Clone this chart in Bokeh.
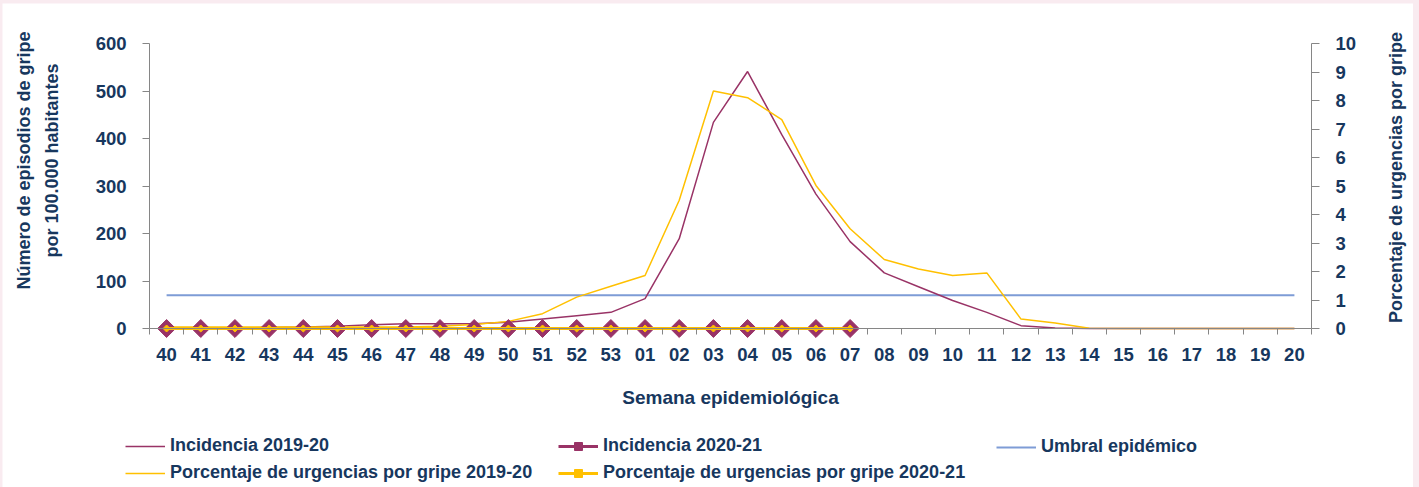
import numpy as np
from bokeh.plotting import figure
from bokeh.models import (Range1d, LinearAxis, FixedTicker, Legend, LegendItem,
                          Label, CustomJSTickFormatter)
from bokeh.embed import file_html
from bokeh.resources import INLINE

# ---------------- data ----------------
weeks = ["40", "41", "42", "43", "44", "45", "46", "47", "48", "49", "50", "51", "52", "53",
         "01", "02", "03", "04", "05", "06", "07", "08", "09", "10", "11", "12", "13", "14",
         "15", "16", "17", "18", "19", "20"]

inc_1920 = [1, 1, 1, 2, 3, 5, 8, 10, 10, 10, 13, 20, 27, 34,
            63, 189, 434, 541, 408, 283, 183, 117, 88, 59, 34, 6, 1, 0,
            0, 0, 0, 0, 0, 0]

pct_1920 = [0.05, 0.05, 0.05, 0.05, 0.05, 0.05, 0.05, 0.05, 0.08, 0.14, 0.25, 0.52, 1.1, 1.48,
            1.86, 4.5, 8.33, 8.1, 7.33, 5.02, 3.5, 2.42, 2.09, 1.86, 1.95, 0.33, 0.19, 0.01,
            0, 0, 0, 0, 0, 0]

weeks_2021 = ["40", "41", "42", "43", "44", "45", "46", "47", "48", "49", "50", "51", "52", "53",
              "01", "02", "03", "04", "05", "06", "07"]
inc_2021 = [0, 0, 0, 0, 0, 0, 0, 0, 0, 0, 0, 0, 0, 0, 0, 0, 0, 0, 0, 0, 0]
pct_2021 = [0, 0, 0, 0, 0, 0, 0, 0, 0, 0, 0, 0, 0, 0, 0, 0, 0, 0, 0, 0, 0]

umbral = [70, 70, 70, 70, 70, 70, 70, 70, 70, 70, 70, 70, 70, 70,
          70, 70, 70, 70, 70, 70, 70, 70, 70, 70, 70, 70, 70, 70,
          70, 70, 70, 70, 70, 70]

left_ticks = [0, 100, 200, 300, 400, 500, 600]
right_ticks = [0, 1, 2, 3, 4, 5, 6, 7, 8, 9, 10]

# ---------------- style / layout ----------------
NAVY = "#17375E"
GRAY = "#868686"
PURPLE = "#993366"
YELLOW = "#FFC000"
BLUE = "#7E9CD6"
FONT = "Liberation Sans"

W, H = 1411, 484               # canvas (whole canvas is the plot frame)
AX_L, AX_R = 147, 1309         # pixel x of left / right value axes
AX_B, AX_T = 325, 40           # pixel y (from top) of value 0 / 600
N = len(weeks)
PXX = (AX_R - AX_L) / N
PXY = (AX_B - AX_T) / 600.0
RATIO = 60.0                   # 600 incidence units == 10 percent units

x_start = -AX_L / PXX
x_end = N + (W - AX_R) / PXX
y_start = -(H - AX_B) / PXY
y_end = AX_B / PXY

pos = {w: i + 0.5 for i, w in enumerate(weeks)}
x_all = [pos[w] for w in weeks]
x_2021 = [pos[w] for w in weeks_2021]

p = figure(width=W, height=H, output_backend="svg", toolbar_location=None,
           x_range=Range1d(x_start, x_end), y_range=Range1d(y_start, y_end),
           min_border=0, outline_line_color=None,
           background_fill_color="white", border_fill_color="white")
p.xgrid.visible = False
p.ygrid.visible = False
p.extra_y_ranges = {"pct": Range1d(y_start / RATIO, y_end / RATIO)}

def style_axis(ax):
    ax.axis_line_color = GRAY
    ax.major_tick_line_color = GRAY
    ax.minor_tick_line_color = GRAY
    ax.major_label_text_font = FONT
    ax.major_label_text_font_style = "bold"
    ax.major_label_text_font_size = "18.5px"
    ax.major_label_text_color = NAVY

xa = p.xaxis[0]
style_axis(xa)
xa.fixed_location = 0
xa.bounds = (0, N)
xa.ticker = FixedTicker(ticks=x_all, minor_ticks=list(range(N + 1)))
xa.formatter = CustomJSTickFormatter(args=dict(labels=weeks),
                                     code="return labels[Math.floor(tick)];")
xa.major_tick_out = 0
xa.major_tick_in = 0
xa.minor_tick_out = 6
xa.minor_tick_in = 0
xa.major_label_standoff = 13

ya = p.yaxis[0]
style_axis(ya)
ya.fixed_location = 0
ya.bounds = (0, 600)
ya.ticker = FixedTicker(ticks=left_ticks, minor_ticks=[])
ya.major_tick_out = 7
ya.major_tick_in = 0
ya.major_label_standoff = 16

ra = LinearAxis(y_range_name="pct", ticker=FixedTicker(ticks=right_ticks, minor_ticks=[]))
style_axis(ra)
ra.fixed_location = N
ra.bounds = (0, 10)
ra.major_tick_out = 8
ra.major_tick_in = 0
ra.major_label_standoff = 16
p.add_layout(ra, "right")

# ---------------- glyphs ----------------
r_umb = p.line(x_all, umbral, line_color=BLUE, line_width=2)
r_inc19 = p.line(x_all, inc_1920, line_color=PURPLE, line_width=1.5)
r_pct19 = p.line(x_all, pct_1920, line_color=YELLOW, line_width=1.5, y_range_name="pct")
r_inc21_l = p.line(x_2021, inc_2021, line_color=PURPLE, line_width=3)
r_inc21_m = p.scatter(x_2021, inc_2021, marker="square", angle=np.pi / 4, size=12.7,
                      fill_color=PURPLE, line_color=PURPLE)
r_pct21_l = p.line(x_2021, pct_2021, line_color=YELLOW, line_width=3, y_range_name="pct")
r_pct21_m = p.scatter(x_2021, pct_2021, marker="square", angle=np.pi / 4, size=5,
                      fill_color=YELLOW, line_color=YELLOW, y_range_name="pct")

# ---------------- titles (screen coords, origin bottom-left of canvas) ----------------
def add_text(text, x, y, size, angle=0.0):
    p.add_layout(Label(x=x, y=y, x_units="screen", y_units="screen", text=text,
                       angle=angle, text_align="center", text_baseline="middle",
                       text_font=FONT, text_font_style="bold",
                       text_font_size=size, text_color=NAVY))

add_text("Número de episodios de gripe", 21, H - 157, "18px", np.pi / 2)
add_text("por 100.000 habitantes", 49, H - 157, "18px", np.pi / 2)
add_text("Porcentaje de urgencias por gripe", 1393, H - 174, "18px", np.pi / 2)
add_text("Semana epidemiológica", (AX_L + AX_R) / 2, H - 394, "19px")

# ---------------- legends ----------------
def make_legend(items, loc):
    lg = Legend(items=items, location=loc, orientation="vertical",
                padding=0, margin=0, spacing=6, glyph_width=40, glyph_height=20,
                label_height=20, label_standoff=5,
                border_line_color=None, background_fill_alpha=0,
                label_text_font=FONT, label_text_font_style="bold",
                label_text_font_size="18px", label_text_color=NAVY)
    p.add_layout(lg, "center")

make_legend([LegendItem(label="Incidencia 2019-20", renderers=[r_inc19]),
             LegendItem(label="Porcentaje de urgencias por gripe 2019-20", renderers=[r_pct19])],
            (123, 4))
make_legend([LegendItem(label="Incidencia 2020-21", renderers=[r_inc21_l, r_inc21_m]),
             LegendItem(label="Porcentaje de urgencias por gripe 2020-21",
                        renderers=[r_pct21_l, r_pct21_m])],
            (556, 4))
make_legend([LegendItem(label="Umbral epidémico", renderers=[r_umb])],
            (994, 30))

html = file_html(p, INLINE)
html = html.replace("</head>",
                    "<style>body{background:#F9EBF0 !important;padding:3px 0 0 2px !important;}</style></head>", 1)
open("out.html", "w").write(html)
